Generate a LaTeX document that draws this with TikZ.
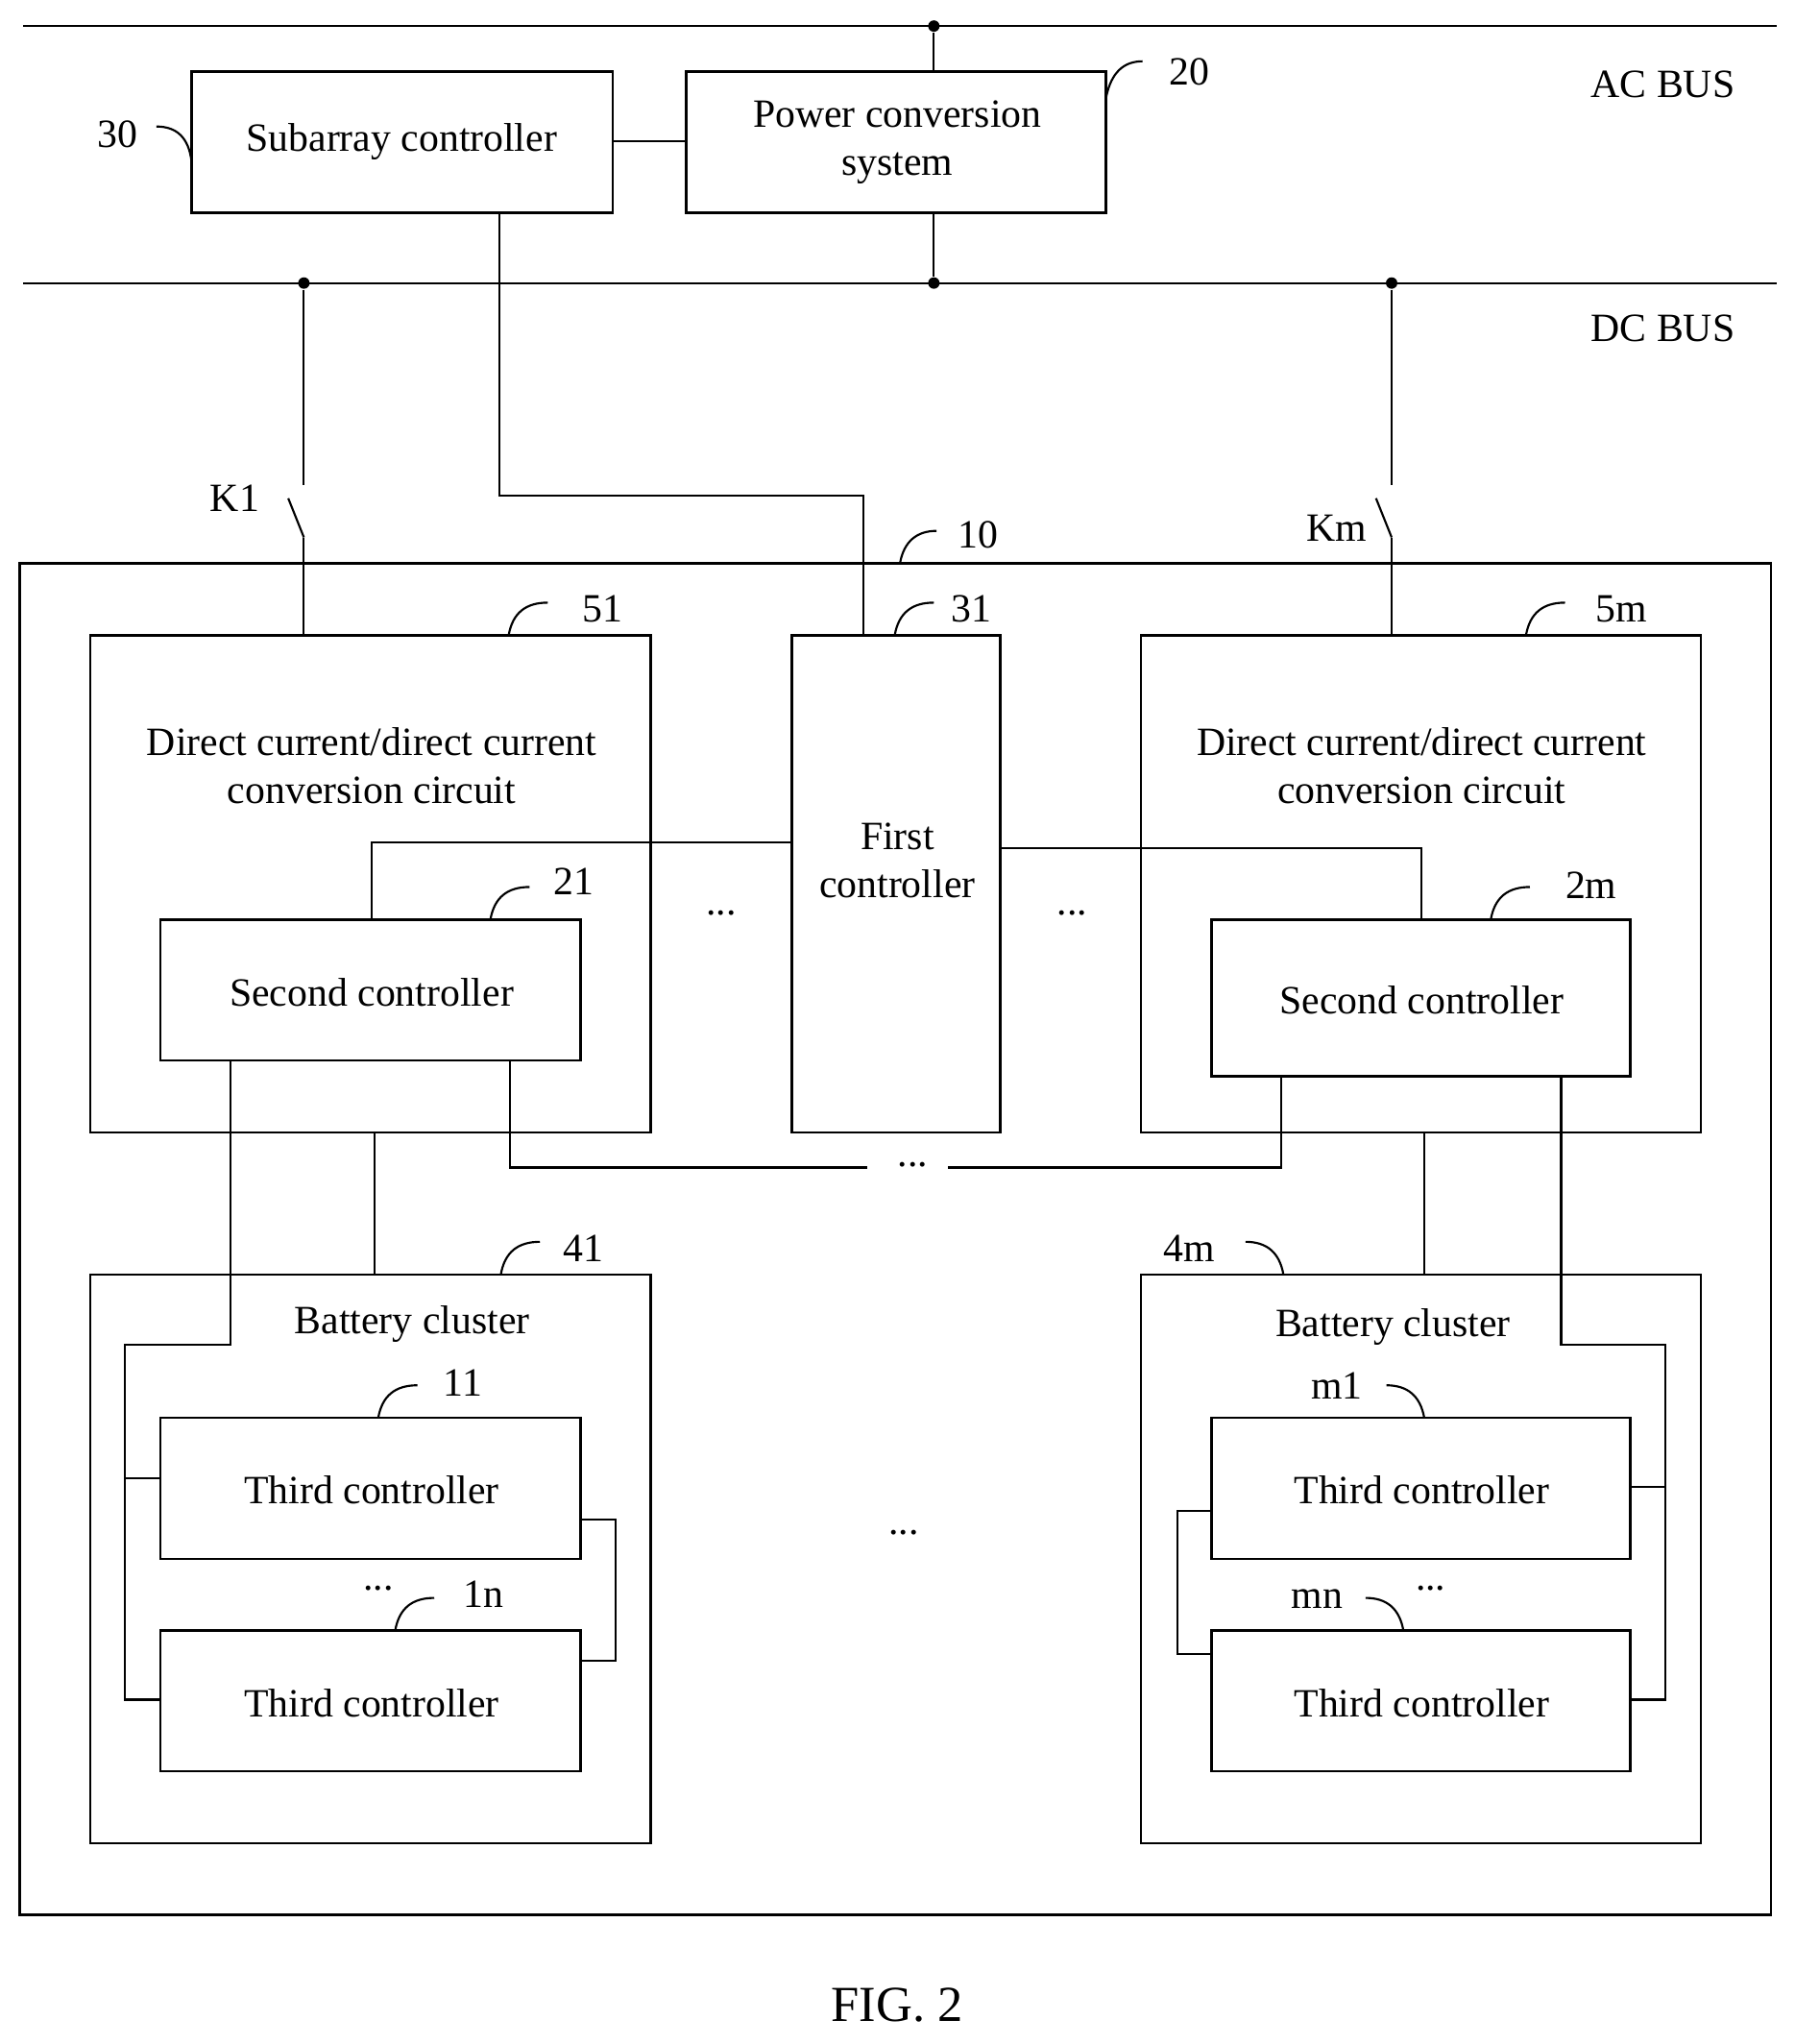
\documentclass[tikz,border=0pt]{standalone}
\usepackage{fontspec}
\setmainfont{Liberation Serif}
\begin{document}
\begin{tikzpicture}[x=0.02cm,y=-0.02cm,line width=0.9pt,
  box/.style={draw,line width=1pt},
  txt/.style={font=\fontsize{17.5}{21}\selectfont,align=center,inner sep=0pt},
  dot/.style={circle,fill,inner sep=0pt,minimum size=5pt}]
\useasboundingbox (0,0) rectangle (1376,1567);
% buses
\draw (18,20) -- (1362,20);
\draw (18,217) -- (1362,217);
\node[dot] (acd) at (716,20) {};
\node[dot] (dc1) at (233,217) {};
\node[dot] (dc2) at (716,217) {};
\node[dot] (dc3) at (1067,217) {};
\node[txt] (ac) at (1275,65) {AC BUS};
\node[txt] (dc) at (1275,252) {DC BUS};
% top boxes
\draw[box] (147,55) rectangle (470,163);
\node[txt] (sub) at (308,109) {Subarray controller};
\draw[box] (526,55) rectangle (848,163);
\node[txt] (pcs) at (688,109) {Power conversion\\system};
\draw (470,108) -- (526,108);
\draw (acd) -- (716,55);
\draw (716,163) -- (dc2);
\node[txt] (l30) at (90,103) {30};
\draw (147,125) .. controls (145,105) and (135,97) .. (120,97);
\node[txt] (l20) at (912,55) {20};
\draw (848,75) .. controls (852,55) and (862,47) .. (876,47);
\draw (383,163) -- (383,380) -- (662,380) -- (662,487);
% outer box
\draw[box] (15,432) rectangle (1358,1468);
\node[txt] (l10) at (750,410) {10};
\draw (690,432) .. controls (693,415) and (703,407) .. (718,407);
% switches
\draw (dc1) -- (233,372);
\draw (233,412) -- (221,382);
\draw (233,412) -- (233,487);
\node[txt] (k1) at (180,382) {K1};
\draw (dc3) -- (1067,372);
\draw (1067,412) -- (1055,382);
\draw (1067,412) -- (1067,487);
\node[txt] (km) at (1025,405) {Km};
% DC/DC boxes
\draw[box] (69,487) rectangle (499,868);
\node[txt] (dd1) at (285,587) {Direct current/direct current\\conversion circuit};
\node[txt] (l51) at (462,467) {51};
\draw (390,487) .. controls (393,470) and (403,462) .. (420,462);
\draw[box] (875,487) rectangle (1304,868);
\node[txt] (ddm) at (1090,587) {Direct current/direct current\\conversion circuit};
\node[txt] (l5m) at (1243,467) {5m};
\draw (1170,487) .. controls (1173,470) and (1183,462) .. (1200,462);
% first controller
\draw[box] (607,487) rectangle (767,868);
\node[txt] (fc) at (688,660) {First\\controller};
\node[txt] (l31) at (745,467) {31};
\draw (686,487) .. controls (689,470) and (699,462) .. (716,462);
% second controllers
\draw[box] (123,705) rectangle (445,813);
\node[txt] (sc1) at (285,761) {Second controller};
\node[txt] (l21) at (440,676) {21};
\draw (376,705) .. controls (379,688) and (389,680) .. (406,680);
\draw[box] (929,705) rectangle (1250,825);
\node[txt] (scm) at (1090,767) {Second controller};
\node[txt] (l2m) at (1220,679) {2m};
\draw (1143,705) .. controls (1146,688) and (1156,680) .. (1173,680);
\draw (285,705) -- (285,646) -- (607,646);
\draw (767,650) -- (1090,650) -- (1090,705);
\node[txt] (e1) at (553,700) {...};
\node[txt] (e2) at (822,700) {...};
\draw (391,813) -- (391,895) -- (665,895);
\node[txt] (e3) at (700,893) {...};
\draw (727,895) -- (982,895) -- (982,825);
% battery clusters
\draw (287,868) -- (287,977);
\draw (1092,868) -- (1092,977);
\draw[box] (69,977) rectangle (499,1413);
\node[txt] (bc1) at (316,1015) {Battery cluster};
\node[txt] (l41) at (447,957) {41};
\draw (384,977) .. controls (387,960) and (397,952) .. (414,952);
\draw[box] (875,977) rectangle (1304,1413);
\node[txt] (bcm) at (1068,1017) {Battery cluster};
\node[txt] (l4m) at (912,957) {4m};
\draw (984,977) .. controls (981,960) and (971,952) .. (955,952);
% third controllers left
\draw[box] (123,1087) rectangle (445,1195);
\node[txt] (t11) at (285,1142) {Third controller};
\node[txt] (l11) at (355,1060) {11};
\draw (290,1087) .. controls (293,1070) and (303,1062) .. (320,1062);
\draw[box] (123,1250) rectangle (445,1358);
\node[txt] (t1n) at (285,1306) {Third controller};
\node[txt] (l1n) at (371,1222) {1n};
\draw (303,1250) .. controls (306,1233) and (316,1225) .. (333,1225);
\node[txt] (e4) at (290,1218) {...};
\draw (177,813) -- (177,1031) -- (96,1031) -- (96,1303) -- (123,1303);
\draw (96,1133) -- (123,1133);
\draw (445,1165) -- (472,1165) -- (472,1273) -- (445,1273);
% third controllers right
\draw[box] (929,1087) rectangle (1250,1195);
\node[txt] (tm1) at (1090,1142) {Third controller};
\node[txt] (lm1) at (1025,1062) {m1};
\draw (1092,1087) .. controls (1089,1070) and (1079,1062) .. (1063,1062);
\draw[box] (929,1250) rectangle (1250,1358);
\node[txt] (tmn) at (1090,1306) {Third controller};
\node[txt] (lmn) at (1010,1226) {mn};
\draw (1076,1250) .. controls (1073,1233) and (1063,1225) .. (1047,1225);
\node[txt] (e5) at (1097,1218) {...};
\draw (1197,825) -- (1197,1031) -- (1277,1031) -- (1277,1303) -- (1250,1303);
\draw (1250,1140) -- (1277,1140);
\draw (929,1158) -- (903,1158) -- (903,1268) -- (929,1268);
\node[txt] (e6) at (693,1175) {...};
\node[font=\fontsize{22}{26}\selectfont] (fig) at (688,1537) {FIG. 2};
\end{tikzpicture}
\end{document}
